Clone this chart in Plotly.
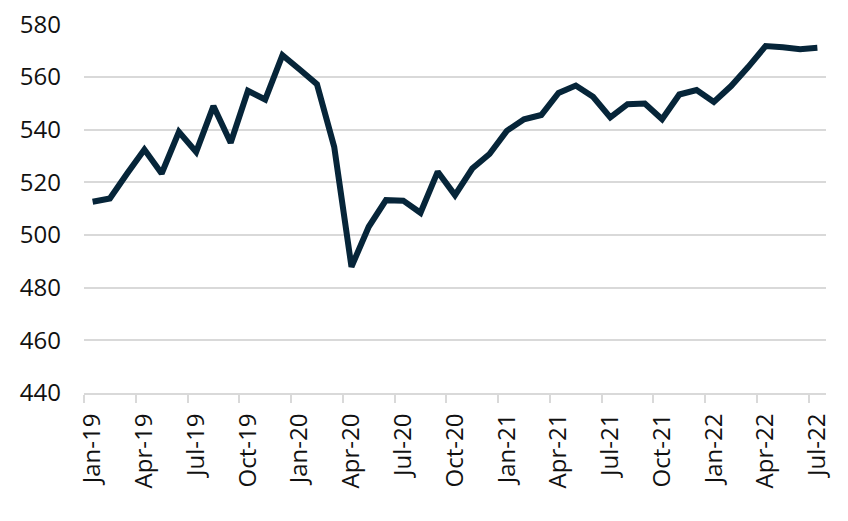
import plotly.graph_objects as go

months = [
    "Jan-19", "Feb-19", "Mar-19", "Apr-19", "May-19", "Jun-19", "Jul-19", "Aug-19", "Sep-19", "Oct-19", "Nov-19", "Dec-19",
    "Jan-20", "Feb-20", "Mar-20", "Apr-20", "May-20", "Jun-20", "Jul-20", "Aug-20", "Sep-20", "Oct-20", "Nov-20", "Dec-20",
    "Jan-21", "Feb-21", "Mar-21", "Apr-21", "May-21", "Jun-21", "Jul-21", "Aug-21", "Sep-21", "Oct-21", "Nov-21", "Dec-21",
    "Jan-22", "Feb-22", "Mar-22", "Apr-22", "May-22", "Jun-22", "Jul-22",
]
values = [
    512.6, 513.8, 523.3, 532.4, 523.3, 539.1, 531.5, 548.9, 535.0, 554.7, 551.4, 568.2,
    562.8, 557.2, 533.4, 487.9, 503.1, 513.2, 513.0, 508.4, 524.0, 515.1, 525.2, 530.7,
    539.5, 543.9, 545.5, 553.9, 556.7, 552.4, 544.6, 549.6, 549.9, 543.9, 553.3, 555.0,
    550.5, 556.5, 563.8, 571.7, 571.2, 570.5, 571.0,
]
y_ticks = [440, 460, 480, 500, 520, 540, 560, 580]

idx = list(range(len(months)))
label_idx = idx[::3]
label_txt = months[::3]
boundary_idx = [i - 0.5 for i in label_idx]

fig = go.Figure()
fig.add_trace(go.Scatter(
    x=idx, y=values, mode="lines",
    line=dict(color="#062539", width=6),
    hoverinfo="skip", showlegend=False, cliponaxis=False,
))

font = dict(family="Open Sans", size=24, color="#111111")

fig.update_layout(
    width=832, height=505,
    margin=dict(l=76, r=14, t=16, b=120, autoexpand=False),
    paper_bgcolor="white", plot_bgcolor="white",
    showlegend=False,
)
fig.update_xaxes(
    range=[-0.5, len(months) - 0.5],
    tickmode="array", tickvals=label_idx, ticktext=label_txt,
    tickangle=-90, tickfont=font, automargin=False,
    ticklabeloverflow="allow",
    ticks="", showgrid=False, zeroline=False,
    showline=True, linecolor="#d9d9d9", linewidth=2,
    ticklabelstandoff=9,
    minor=dict(tickmode="array", tickvals=boundary_idx, ticks="outside",
               ticklen=8, tickwidth=2, tickcolor="#d9d9d9", showgrid=False),
)
fig.update_yaxes(
    range=[440, 580.05],
    tickmode="array", tickvals=y_ticks, automargin=False,
    ticklabeloverflow="allow",
    tickfont=font,
    showgrid=True, gridcolor="#d9d9d9", gridwidth=2,
    zeroline=False, showline=False, ticks="",
    ticklabelstandoff=22,
)

fig.write_html("out.html")
